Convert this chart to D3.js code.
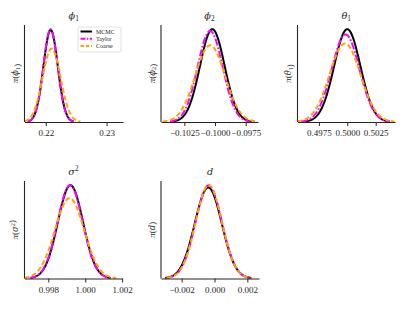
<!DOCTYPE html>
<html>
<head>
<meta charset="utf-8">
<script src="https://cdn.jsdelivr.net/npm/d3@7"></script>
<style>
  body { margin: 0; background: #fff; }
  svg text { font-family: "Liberation Serif", "DejaVu Serif", serif; fill: #262626; }
</style>
</head>
<body>
<svg id="canvas" width="415" height="311"></svg>
<script>
// parameters of each posterior, one value per panel
const panelNames = ["phi1", "phi2", "theta1", "sigma2", "d"];
const methods = ["MCMC", "Taylor", "Coarse"];

const mcmcMean = [0.22080, -0.10022, 0.50000, 0.99920, -0.00038];
const mcmcSd = [0.00118, 0.00100, 0.00115, 0.00068, 0.00082];
const taylorMean = [0.22078, -0.10040, 0.49985, 0.99918, -0.00035];
const taylorSd = [0.00117, 0.00102, 0.00122, 0.00068, 0.00080];
const coarseMean = [0.22095, -0.10040, 0.49980, 0.99915, -0.00035];
const coarseSd = [0.00148, 0.00121, 0.00136, 0.00079, 0.00080];

const xDomains = [
  [0.2165, 0.2327],
  [-0.1044, -0.0965],
  [0.49562, 0.5042],
  [0.99671, 1.00202],
  [-0.00326, 0.00271],
];
const xTicks = [
  [0.22, 0.23],
  [-0.1025, -0.1, -0.0975],
  [0.4975, 0.5, 0.5025],
  [0.998, 1.0, 1.002],
  [-0.002, 0, 0.002],
];
const tickFormats = [".2f", ".4f", ".4f", ".3f", ".3f"];

// title / y label pieces: [symbol, subscript, superscript]
const symbols = [["ϕ", "1", ""], ["ϕ", "2", ""], ["θ", "1", ""], ["σ", "", "2"], ["d", "", ""]];

const colors = { MCMC: "#000000", Taylor: "#ff00ff", Coarse: "#ffa500" };
const dashes = { MCMC: null, Taylor: "7,2,1.6,2", Coarse: "5,2.6" };

// panel boxes (left, top, width, height)
const boxes = [
  [24.5, 25, 98.5, 97],
  [161, 25, 97, 97],
  [297.5, 25, 97.5, 97],
  [24.5, 181, 98, 97.5],
  [161, 181, 98, 97.5],
];

const svg = d3.select("#canvas");

const normal = (x, m, s) =>
  Math.exp(-0.5 * ((x - m) / s) ** 2) / (s * Math.sqrt(2 * Math.PI));

const seriesOf = (i) => [
  { name: "MCMC", mean: mcmcMean[i], sd: mcmcSd[i] },
  { name: "Taylor", mean: taylorMean[i], sd: taylorSd[i] },
  { name: "Coarse", mean: coarseMean[i], sd: coarseSd[i] },
];

const addMath = (sel, sym, sub, sup, size) => {
  sel.append("tspan").attr("font-style", "italic").attr("font-family", "DejaVu Serif, serif")
    .attr("font-size", size * 0.92).text(sym);
  if (sub) {
    sel.append("tspan").attr("font-size", size * 0.7).attr("dy", size * 0.22).text(sub);
    sel.append("tspan").attr("dy", -size * 0.22).text("");
  }
  if (sup) {
    sel.append("tspan").attr("font-size", size * 0.7).attr("dy", -size * 0.38).text(sup);
    sel.append("tspan").attr("dy", size * 0.38).text("");
  }
};

panelNames.forEach((name, i) => {
  const [left, top, w, h] = boxes[i];
  const g = svg.append("g").attr("transform", `translate(${left},${top})`);
  const series = seriesOf(i);

  const x = d3.scaleLinear().domain(xDomains[i]).range([0, w]);
  const peak = d3.max(series, (s) => normal(s.mean, s.mean, s.sd));
  const y = d3.scaleLinear().domain([0, peak * 1.045]).range([h, 0]);

  const line = d3
    .line()
    .x((d) => x(d[0]))
    .y((d) => y(d[1]));

  series.forEach((s) => {
    const lo = Math.max(xDomains[i][0], s.mean - 3.2 * s.sd);
    const hi = Math.min(xDomains[i][1], s.mean + 3.2 * s.sd);
    const pts = d3.range(0, 201).map((k) => {
      const xv = lo + ((hi - lo) * k) / 200;
      return [xv, normal(xv, s.mean, s.sd)];
    });
    g.append("path")
      .datum(pts)
      .attr("d", line)
      .attr("fill", "none")
      .attr("stroke", colors[s.name])
      .attr("stroke-width", 2)
      .attr("stroke-dasharray", dashes[s.name]);
  });

  // spines
  g.append("line")
    .attr("x1", 0).attr("x2", 0).attr("y1", 0).attr("y2", h)
    .attr("stroke", "#262626").attr("stroke-width", 1.1);

  const xAxis = g
    .append("g")
    .attr("transform", `translate(0,${h})`)
    .call(
      d3.axisBottom(x)
        .tickValues(xTicks[i])
        .tickFormat(d3.format(tickFormats[i]))
        .tickSize(4)
        .tickSizeOuter(0)
        .tickPadding(4)
    );
  xAxis.select(".domain").attr("stroke", "#262626").attr("stroke-width", 1.1);
  xAxis.selectAll(".tick line").attr("stroke", "#262626").attr("stroke-width", 1);
  xAxis.selectAll(".tick text")
    .attr("font-size", 9)
    .attr("font-family", "Liberation Serif, DejaVu Serif, serif")
    .attr("fill", "#262626");

  const [sym, sub, sup] = symbols[i];

  // title
  const title = g.append("text")
    .attr("x", w / 2)
    .attr("y", -6)
    .attr("text-anchor", "middle")
    .attr("font-size", 10.5);
  addMath(title, sym, sub, sup, 10.5);

  // y label
  const yl = g.append("text")
    .attr("transform", `translate(-6.5,${h / 2}) rotate(-90)`)
    .attr("text-anchor", "middle")
    .attr("font-size", 9);
  yl.append("tspan").attr("font-style", "italic").text("π");
  yl.append("tspan").text("(");
  addMath(yl, sym, sub, sup, 9);
  yl.append("tspan").text(")");
});

// legend in first panel
const leg = svg.append("g").attr("transform", "translate(78,27)");
leg.append("rect")
  .attr("width", 43).attr("height", 25).attr("rx", 1.5)
  .attr("fill", "#fff").attr("fill-opacity", 0.8)
  .attr("stroke", "#d6d6d6").attr("stroke-width", 0.7);
methods.forEach((m, k) => {
  const yy = 4.5 + k * 7.3;
  leg.append("line")
    .attr("x1", 2.5).attr("x2", 14).attr("y1", yy).attr("y2", yy)
    .attr("stroke", colors[m]).attr("stroke-width", 2)
    .attr("stroke-dasharray", m === "MCMC" ? null : m === "Taylor" ? "5,1.5,1.2,1.5" : "3.5,1.8");
  leg.append("text")
    .attr("x", 18).attr("y", yy + 2)
    .attr("font-size", 6)
    .text(m);
});
</script>
</body>
</html>
